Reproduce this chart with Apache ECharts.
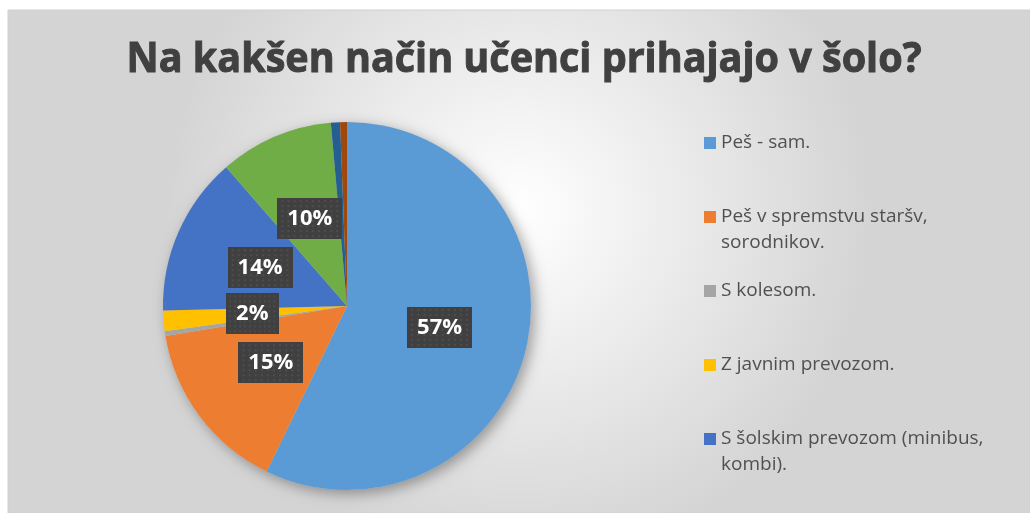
<!DOCTYPE html>
<html>
<head>
<meta charset="utf-8">
<script src="https://cdn.jsdelivr.net/npm/echarts@6/dist/echarts.min.js"></script>
<style>
html,body{margin:0;padding:0;background:#fff;}
#chart{width:1030px;height:513px;}
</style>
</head>
<body>
<div id="chart"></div>
<script>
var chartTitle = 'Na kakšen način učenci prihajajo v šolo?';
// kategorije (zadnje tri v legendi niso vidne)
var categories = ['Peš - sam.', 'Peš v spremstvu staršv, sorodnikov.', 'S kolesom.', 'Z javnim prevozom.', 'S šolskim prevozom (minibus, kombi).', 'Z avtom.', 'Drugo.', 'Ostalo.'];
var legendLabels = ['Peš - sam.', 'Peš v spremstvu staršv,\nsorodnikov.', 'S kolesom.', 'Z javnim prevozom.', 'S šolskim prevozom (minibus,\nkombi).'];
var values = [57.2, 15.2, 0.4, 1.8, 14.0, 10.0, 0.8, 0.6];
var showLabel = [true, true, false, true, true, true, false, false];
var colors = ['#5B9BD5', '#ED7D31', '#A5A5A5', '#FFC000', '#4472C4', '#70AD47', '#255E91', '#9E480E'];

var chart = echarts.init(document.getElementById('chart'));

// naslov stisnemo na sirino kot v Excelu
var titleFont = 'bold 42px "Open Sans"';
var mctx = document.createElement('canvas').getContext('2d');
mctx.font = titleFont;
var titleScale = 795 / mctx.measureText(chartTitle).width;

// pikcasto ozadje oznak
var dots = document.createElement('canvas');
dots.width = 64; dots.height = 41;
var dctx = dots.getContext('2d');
dctx.fillStyle = '#404040';
dctx.fillRect(0, 0, 64, 41);
dctx.fillStyle = '#4e4e4e';
for (var yy = 2; yy < 41; yy += 5) {
    for (var xx = ((yy / 5) % 2 ? 4 : 1); xx < 64; xx += 6) {
        dctx.fillRect(xx, yy, 2, 2);
    }
}

var iconCenters = [143, 217, 291, 365, 439];
var legends = legendLabels.map(function (lbl, i) {
    var twoLines = lbl.indexOf('\n') >= 0;
    return {
        data: [categories[i]],
        left: 704,
        top: twoLines ? iconCenters[i] - 39 : iconCenters[i] - 13,
        padding: 0,
        icon: 'rect',
        itemWidth: 12,
        itemHeight: 12,
        selectedMode: false,
        formatter: function () { return twoLines ? '\n' + lbl : lbl; },
        textStyle: {
            fontFamily: 'Open Sans',
            fontSize: 19,
            color: '#505050',
            lineHeight: 26
        }
    };
});

chart.setOption({
    color: colors,
    graphic: [{
        type: 'rect',
        z: -10,
        shape: {x: 8, y: 10, width: 1022, height: 503},
        style: {
            fill: new echarts.graphic.RadialGradient(0.5, 0.4, 0.7, [
                {offset: 0, color: '#ffffff'},
                {offset: 1, color: '#d4d4d4'}
            ]),
            stroke: '#d0d0d0',
            lineWidth: 1
        }
    }, {
        type: 'text',
        z: 10,
        x: 524,
        y: 60,
        scaleX: titleScale,
        style: {
            text: chartTitle,
            font: titleFont,
            fill: '#404040',
            stroke: '#404040',
            lineWidth: 1,
            align: 'center',
            verticalAlign: 'middle'
        }
    }],
    legend: legends,
    series: [{
        // senca pod tortnim diagramom
        type: 'pie',
        silent: true,
        z: 1,
        center: [347, 306],
        radius: 184,
        label: {show: false},
        itemStyle: {
            color: '#cccccc',
            shadowBlur: 14,
            shadowColor: 'rgba(0,0,0,0.35)',
            shadowOffsetX: 4,
            shadowOffsetY: 4
        },
        data: [{value: 1, name: ''}]
    }, {
        type: 'pie',
        z: 2,
        center: [347, 306],
        radius: 184,
        startAngle: 90,
        clockwise: true,
        avoidLabelOverlap: false,
        itemStyle: {borderWidth: 0},
        emphasis: {scale: false},
        label: {
            position: 'inside',
            formatter: function (p) { return Math.round(p.percent) + '%'; },
            fontFamily: 'Open Sans',
            fontWeight: 'bold',
            fontSize: 22,
            lineHeight: 26,
            color: '#ffffff',
            backgroundColor: {image: dots},
            padding: [8, 10, 7, 10],
            shadowColor: 'rgba(0,0,0,0.45)',
            shadowBlur: 5,
            shadowOffsetX: 2,
            shadowOffsetY: 3
        },
        labelLine: {show: false},
        data: categories.map(function (c, i) {
            return {name: c, value: values[i], label: {show: showLabel[i]}};
        })
    }]
});
</script>
</body>
</html>
